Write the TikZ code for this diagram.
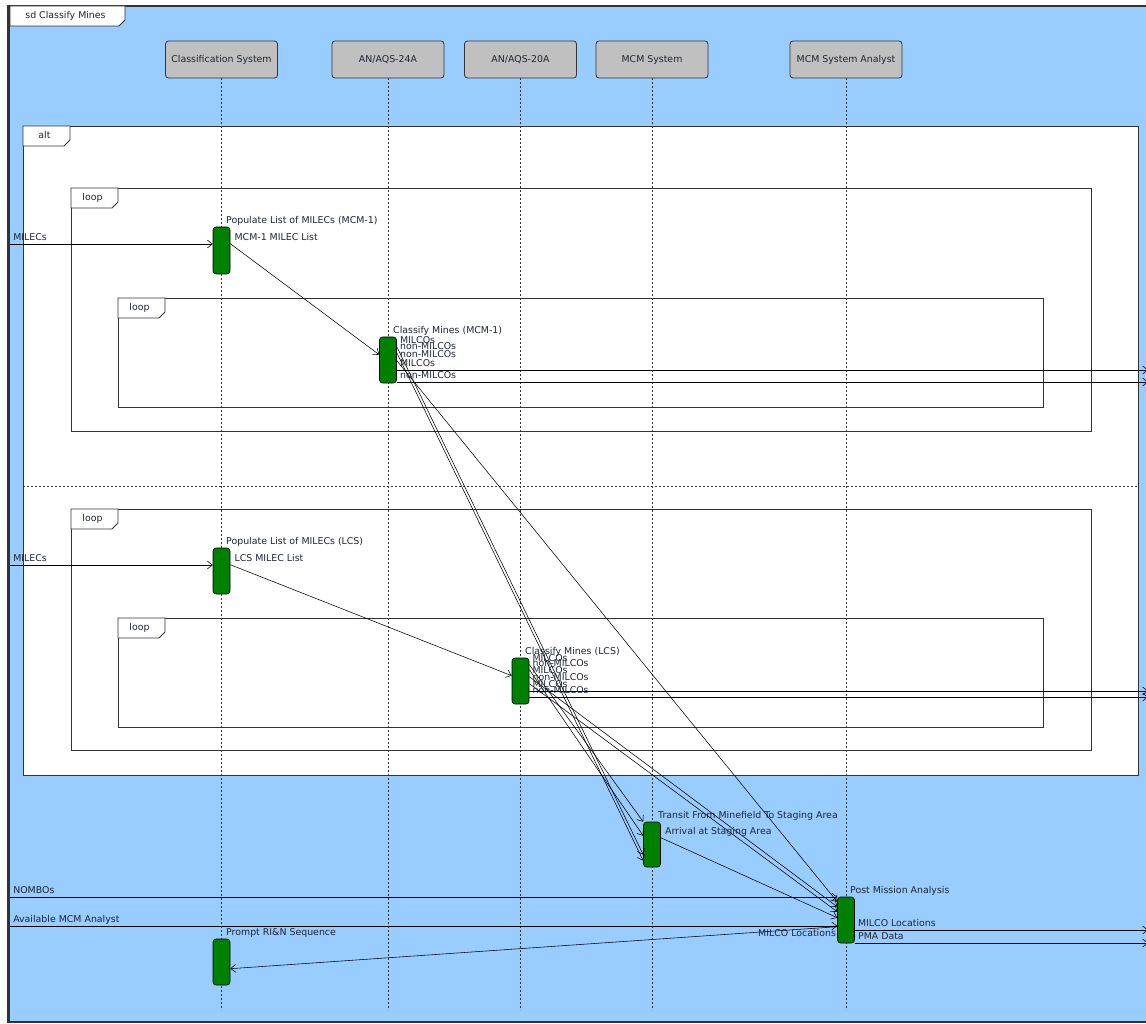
\documentclass[tikz,border=0pt]{standalone}
\usepackage{fontspec}
\setmainfont{DejaVu Sans}
\usetikzlibrary{arrows.meta,positioning,calc}
\definecolor{Cielo}{HTML}{99CCFF}
\definecolor{Marco}{HTML}{333333}
\definecolor{Cabeza}{HTML}{C0C0C0}
\definecolor{Activo}{HTML}{008000}
\definecolor{Texto}{HTML}{1E2633}

% pestaña de fragmento: x0, y0, x1, y1, texto, nombre
\newcommand{\fragtab}[6]{%
  \path[draw=Marco,fill=white,line width=0.8pt]
    (#1,#2) -- (#3,#2) -- (#3,#4-6) -- (#3-6,#4) -- (#1,#4) -- cycle;
  \node[lbl,anchor=center] (#6) at ({(#1+#3)/2-2},{(#2+#4)/2}) {#5};}

\begin{document}
\begin{tikzpicture}[x=1pt,y=-1pt,font=\fontsize{9.4}{11}\selectfont,
  lbl/.style={text=Texto,inner sep=1pt,text height=7pt,text depth=2pt},
  mlbl/.style={lbl,anchor=south west,xshift=2pt},
  head/.style={draw=Marco,fill=Cabeza,rounded corners=3pt,line width=0.8pt,
    minimum width=112pt,minimum height=37pt,text=Texto,inner sep=0pt},
  act/.style={draw=black,fill=Activo,rounded corners=3pt,line width=0.6pt,
    minimum width=17pt,inner sep=0pt},
  life/.style={draw=Marco,line width=0.7pt,dash pattern=on 2pt off 2pt},
  box/.style={draw=Marco,line width=0.8pt},
  msg/.style={draw=black,line width=0.55pt,-{Straight Barb[length=5pt,width=8pt]}}]
  \fill[white] (0,0) rectangle (1146,1024);
  \useasboundingbox (0,0) rectangle (1146,1024);

  % marco del diagrama
  \path[draw=Marco,line width=2.5pt,fill=Cielo] (8.5,6) rectangle (1170,1022);
  \fragtab{10}{6}{125}{26}{sd Classify Mines}{tSd}

  % fragmentos alt y loop
  \path[box,fill=white] (23,126) rectangle (1138,775);
  \fragtab{23}{126}{70}{146}{alt}{tAlt}
  \draw[Marco,line width=0.8pt,dash pattern=on 2pt off 2pt] (23,486) -- (1138,486);
  \draw[box] (71,188) rectangle (1091,431);
  \fragtab{71}{188}{118}{208}{loop}{tLoop1}
  \draw[box] (118,298) rectangle (1043,407);
  \fragtab{118}{298}{165}{318}{loop}{tLoop2}
  \draw[box] (71,509) rectangle (1091,750);
  \fragtab{71}{509}{118}{529}{loop}{tLoop3}
  \draw[box] (118,618) rectangle (1043,727);
  \fragtab{118}{618}{165}{638}{loop}{tLoop4}

  % líneas de vida
  \node[head] (cls) at (221.5,59.5) {Classification System};
  \node[head] (aqs24) at (388,59.5) {AN/AQS-24A};
  \node[head] (aqs20) at (520.5,59.5) {AN/AQS-20A};
  \node[head] (mcm) at (652,59.5) {MCM System};
  \node[head] (ana) at (846,59.5) {MCM System Analyst};
  \foreach \h in {cls,aqs24,aqs20,mcm,ana}
    \draw[life] (\h.south) -- ++(0,932);

  % activaciones
  \node[act,minimum height=47pt] (pop1) at (221.5,250.5) {};
  \node[act,minimum height=46pt] (cm1) at (388,360) {};
  \node[act,minimum height=46pt] (pop2) at (221.5,571) {};
  \node[act,minimum height=46pt] (cl) at (520.5,681) {};
  \node[act,minimum height=45pt] (trn) at (652,844.5) {};
  \node[act,minimum height=46pt] (pma) at (846,920) {};
  \node[act,minimum height=46pt] (rin) at (221.5,962) {};
  \node[lbl,anchor=south west] (tPop1) at ([xshift=3.5pt]pop1.north) {Populate List of MILECs (MCM-1)};
  \node[lbl,anchor=south west] (tCm1) at ([xshift=4pt]cm1.north) {Classify Mines (MCM-1)};
  \node[lbl,anchor=south west] (tPop2) at ([xshift=3.5pt]pop2.north) {Populate List of MILECs (LCS)};
  \node[lbl,anchor=south west] (tCl) at ([xshift=3.5pt]cl.north) {Classify Mines (LCS)};
  \node[lbl,anchor=south west] (tTrn) at ([xshift=5pt]trn.north) {Transit From Minefield To Staging Area};
  \node[lbl,anchor=south west] (tPma) at ([xshift=3pt]pma.north) {Post Mission Analysis};
  \node[lbl,anchor=south west] (tRin) at ([xshift=3.5pt]rin.north) {Prompt RI\&N Sequence};

  % puertas en el borde del marco
  \coordinate (gMil1) at (10,244);
  \coordinate (gMil2) at (10,565);
  \coordinate (gNom) at (10,897);
  \coordinate (gAvl) at (10,926);
  \coordinate (gOut1) at (1148,370);
  \coordinate (gOut2) at (1148,382);
  \coordinate (gOut3) at (1148,691);
  \coordinate (gOut4) at (1148,697);
  \coordinate (gOut5) at (1148,930);
  \coordinate (gOut6) at (1148,943);

  % MCM-1
  \draw[msg] (gMil1) node[mlbl] (mMil1) {MILECs} -- (gMil1 -| pop1.west);
  \draw[msg] ($(pop1.north east)+(0,17)$) node[mlbl,xshift=1pt] (mList1) {MCM-1 MILEC List}
    -- ($(cm1.north west)+(0,18)$);
  \draw[msg] ($(cm1.north east)+(0,10)$) node[mlbl] (mA1) {MILCOs} -- ($(trn.north west)+(0,33)$);
  \draw[msg] ($(cm1.north east)+(0,16)$) node[mlbl] (mA2) {non-MILCOs} -- ($(trn.north west)+(0,39)$);
  \draw[msg] ($(cm1.north east)+(0,24)$) node[mlbl] (mA3) {non-MILCOs} -- ($(pma.north west)+(0,5)$);
  \draw[msg] (cm1.east |- gOut1) node[mlbl] (mA4) {MILCOs} -- (gOut1);
  \draw[msg] (cm1.east |- gOut2) node[mlbl] (mA5) {non-MILCOs} -- (gOut2);

  % LCS
  \draw[msg] (gMil2) node[mlbl] (mMil2) {MILECs} -- (gMil2 -| pop2.west);
  \draw[msg] ($(pop2.north east)+(0,17)$) node[mlbl,xshift=1pt] (mList2) {LCS MILEC List}
    -- ($(cl.north west)+(0,18)$);
  \draw[msg] ($(cl.north east)+(0,7)$) node[mlbl] (mB1) {MILCOs} -- (trn.north west);
  \draw[msg] ($(cl.north east)+(0,12)$) node[mlbl] (mB2) {non-MILCOs} -- ($(trn.north west)+(0,14)$);
  \draw[msg] ($(cl.north east)+(0,19)$) node[mlbl] (mB3) {MILCOs} -- ($(pma.north west)+(0,10)$);
  \draw[msg] ($(cl.north east)+(0,26)$) node[mlbl] (mB4) {non-MILCOs} -- ($(pma.north west)+(0,15)$);
  \draw[msg] (cl.east |- gOut3) node[mlbl] (mB5) {MILCOs} -- (gOut3);
  \draw[msg] (cl.east |- gOut4) node[mlbl] (mB6) {non-MILCOs} -- (gOut4);

  % llegada y análisis
  \draw[msg] ($(trn.north east)+(0,16)$) node[mlbl,xshift=1pt] (mArr) {Arrival at Staging Area}
    -- ($(pma.north west)+(0,21)$);
  \draw[msg] (gNom) node[mlbl] (mNom) {NOMBOs} -- (gNom -| pma.west);
  \draw[msg] (gAvl) node[mlbl] (mAvl) {Available MCM Analyst} -- (gAvl -| pma.west);
  \draw[msg] (pma.east |- gOut5) node[mlbl] (mLoc) {MILCO Locations} -- (gOut5);
  \draw[msg] (pma.east |- gOut6) node[mlbl] (mPma) {PMA Data} -- (gOut6);
  \draw[msg] ($(pma.north west)+(0,30)$) node[lbl,anchor=east,yshift=-7pt] (mRet) {MILCO Locations}
    -- ($(rin.north east)+(0,30)$);
\end{tikzpicture}
\end{document}
